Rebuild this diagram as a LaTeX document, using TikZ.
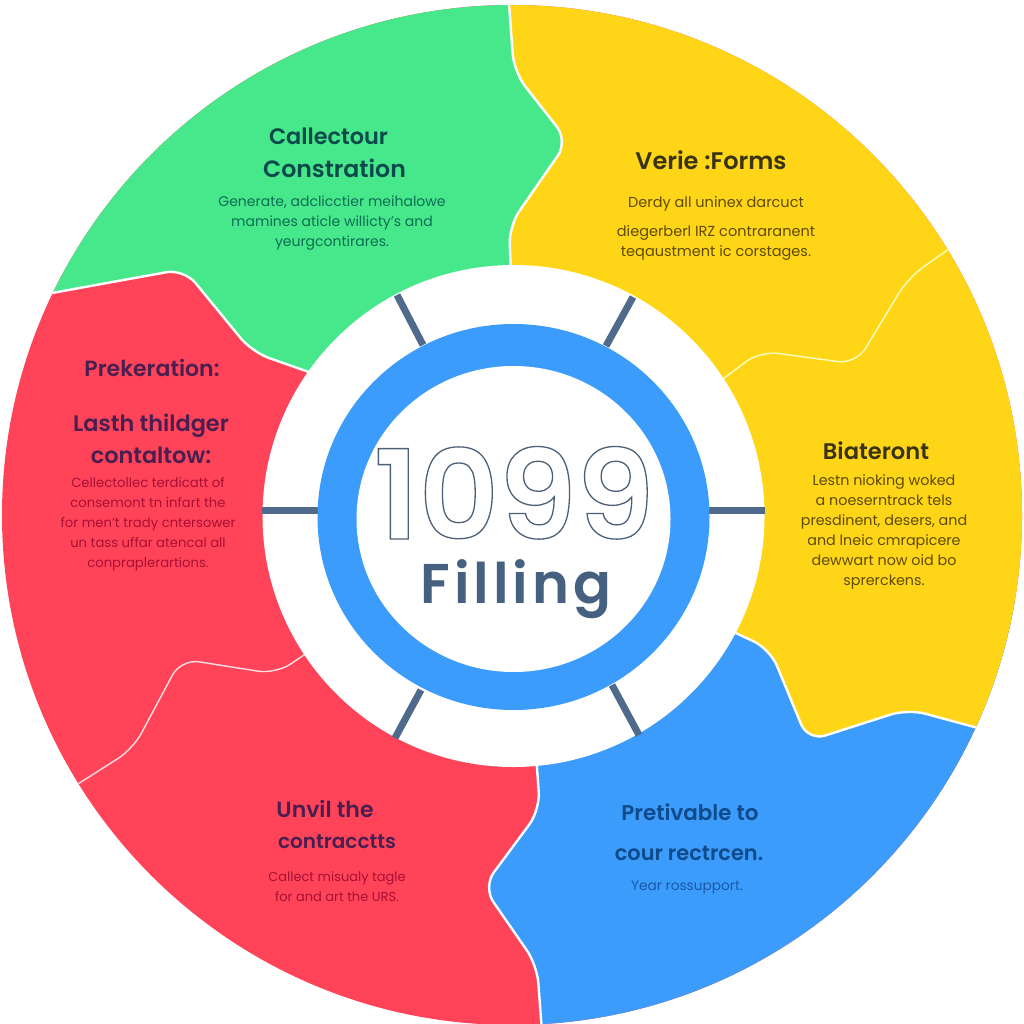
\documentclass[tikz,border=0pt]{standalone}
\usepackage{
	fontspec,			% Poppins
	tikz,
	xcolor
}
\setmainfont{Poppins}
\newfontfamily\headfont{Poppins SemiBold}
\newfontfamily\fillfont{Poppins SemiBold}[LetterSpace=7]

\definecolor{segred}{HTML}{FF4359}
\definecolor{seggreen}{HTML}{47E88C}
\definecolor{segyellow}{HTML}{FFD617}
\definecolor{segblue}{HTML}{3B9CFB}
\definecolor{spokeblue}{HTML}{4F6A8A}
\definecolor{fillblue}{HTML}{46607F}
\definecolor{greenhead}{HTML}{0B4A4A}
\definecolor{greenbody}{HTML}{0C6E50}
\definecolor{yellowhead}{HTML}{3A3214}
\definecolor{yellowbody}{HTML}{5E4A00}
\definecolor{redhead}{HTML}{4A1F50}
\definecolor{redbody}{HTML}{A81034}
\definecolor{bluehead}{HTML}{0F4A8A}
\definecolor{bluebody}{HTML}{1A5AA8}

% Segment edges.
\newcommand{\edgeGY}{(508,-10) -- (514,72) -- (568,141) -- (509,226) -- (512,300)}
\newcommand{\edgeGR}{(320,376) -- (252,352) -- (184,269) -- (30,297)}
\newcommand{\edgeYY}{(960,241) -- (908,278) -- (856,364) -- (760,351) -- (715,385)}
\newcommand{\edgeYB}{(725,628) -- (770,649) -- (808,741) -- (908,709) -- (1000,734)}
\newcommand{\edgeRB}{(535,740) -- (540,810) -- (483,887) -- (537,965) -- (544,1060)}
\newcommand{\edgeRR}{(70,789) -- (133,749) -- (181,659) -- (276,674) -- (320,644)}

\tikzset{
	edge/.style={draw=white,line width=2.4pt,rounded corners=18pt},
	thinedge/.style={line width=1.4pt,rounded corners=18pt},
	spoke/.style={draw=spokeblue,line width=7pt},
	head/.style={font=\fontsize{#1}{32}\selectfont\headfont,align=center},
	head/.default=22,
	body/.style={font=\fontsize{#1}{20}\selectfont,align=center},
	body/.default=14
}

\begin{document}
\begin{tikzpicture}[x=1pt,y=-1pt]
	\useasboundingbox (0,0) rectangle (1024,1024);

	\begin{scope}
		\clip (512,515) circle (510pt);
		\fill[segred] (0,0) rectangle (1024,1040);
		\fill[segblue,rounded corners=18pt] \edgeRB -- (1100,1060) -- (1100,600) -- (700,600) -- cycle;
		\fill[seggreen,rounded corners=18pt] \edgeGY -- \edgeGR -- (-20,-20) -- cycle;
		\fill[segyellow,rounded corners=18pt] \edgeGY -- \edgeYB -- (1100,734) -- (1100,-20) -- cycle;
		\draw[edge] \edgeGY;
		\draw[edge] \edgeGR;
		\draw[edge] \edgeYB;
		\draw[edge] \edgeRB;
		\draw[thinedge,draw=yellow!25] \edgeYY;
		\draw[thinedge,draw=red!12] \edgeRR;
	\end{scope}

	\coordinate (hub) at (513.5,516);
	\fill[white] (hub) circle (251pt);

	\coordinate (tla) at (397,295);
	\coordinate (tlb) at (423,345);
	\coordinate (tra) at (633,297);
	\coordinate (trb) at (606,346);
	\coordinate (bla) at (395,738);
	\coordinate (blb) at (421,690);
	\coordinate (bra) at (639,735);
	\coordinate (brb) at (612,685);
	\coordinate (lfa) at (262,510);
	\coordinate (lfb) at (320,510);
	\coordinate (rta) at (765,510);
	\coordinate (rtb) at (707,510);
	\foreach \a/\b in {tla/tlb,tra/trb,bla/blb,bra/brb,lfa/lfb,rta/rtb}
		\draw[spoke] (\a) -- (\b);

	\fill[segblue] (513.5,517) ellipse [x radius=196,y radius=193]; % Blue ring.
	\fill[white] (513.5,519) ellipse [x radius=157,y radius=153];

	\node[inner sep=0pt,text height=84pt,text depth=0pt] (num) at (514,497) {\fontsize{124}{124}\selectfont\headfont\special{pdf:code 1 Tr 1.3 w 0.30 0.38 0.47 RG}1099\special{pdf:code 0 Tr}};
	\node[inner sep=0pt,text=fillblue] (word) at (516,589) {\fontsize{56}{56}\selectfont\fillfont Filling};

	\node[head=22.4,text=greenhead] (callhead) at (328.5,136) {Callectour};
	\node[head=23.6,text=greenhead] (conshead) at (334.5,168) {Constration};
	\node[body,text=greenbody] (collbody) at (332,223) {Generate, adclicctier meihalowe\\mamines aticle willicty's and\\yeurgcontirares.};

	\node[head=24,text=yellowhead] (verihead) at (711,160) {Verie :Forms};
	\node[body=14.5,text=yellowbody] (veribody) at (716,228) {Derdy all uninex darcuct\\[9pt]diegerberl IRZ contraranent\\teqaustment ic corstages.};

	\node[head,text=redhead] (prekhead) at (152,368) {Prekeration:};
	\node[head=22.4,text=redhead] (lasthead) at (151,439) {Lasth thildger\\contaltow:};
	\node[body=13.2,text=redbody] (lastbody) at (148,524) {Cellectollec terdicatt of\\consemont tn infart the\\for men't trady cntersower\\un tass uffar atencal all\\conpraplerartions.};

	\node[head=22.6,text=yellowhead] (biathead) at (876,451) {Biateront};
	\node[body=14.3,text=yellowbody] (biatbody) at (884,532) {Lestn nioking woked\\a noeserntrack tels\\presdinent, desers, and\\and lneic cmrapicere\\dewwart now oid bo\\sprerckens.};

	\node[head,text=redhead] (unvihead) at (325,809) {Unvil the};
	\node[head=20,text=redhead] (conthead) at (337,842) {contracctts};
	\node[body=13,text=redbody] (unvibody) at (337,887) {Callect misualy tagle\\for and art the URS.};

	\node[head=21.4,text=bluehead] (prethead) at (690,812) {Pretivable to};
	\node[head=20.9,text=bluehead] (courhead) at (689,853) {cour rectrcen.};
	\node[body=13.7,text=bluebody] (courbody) at (687,887) {Year rossupport.};
\end{tikzpicture}
\end{document}
